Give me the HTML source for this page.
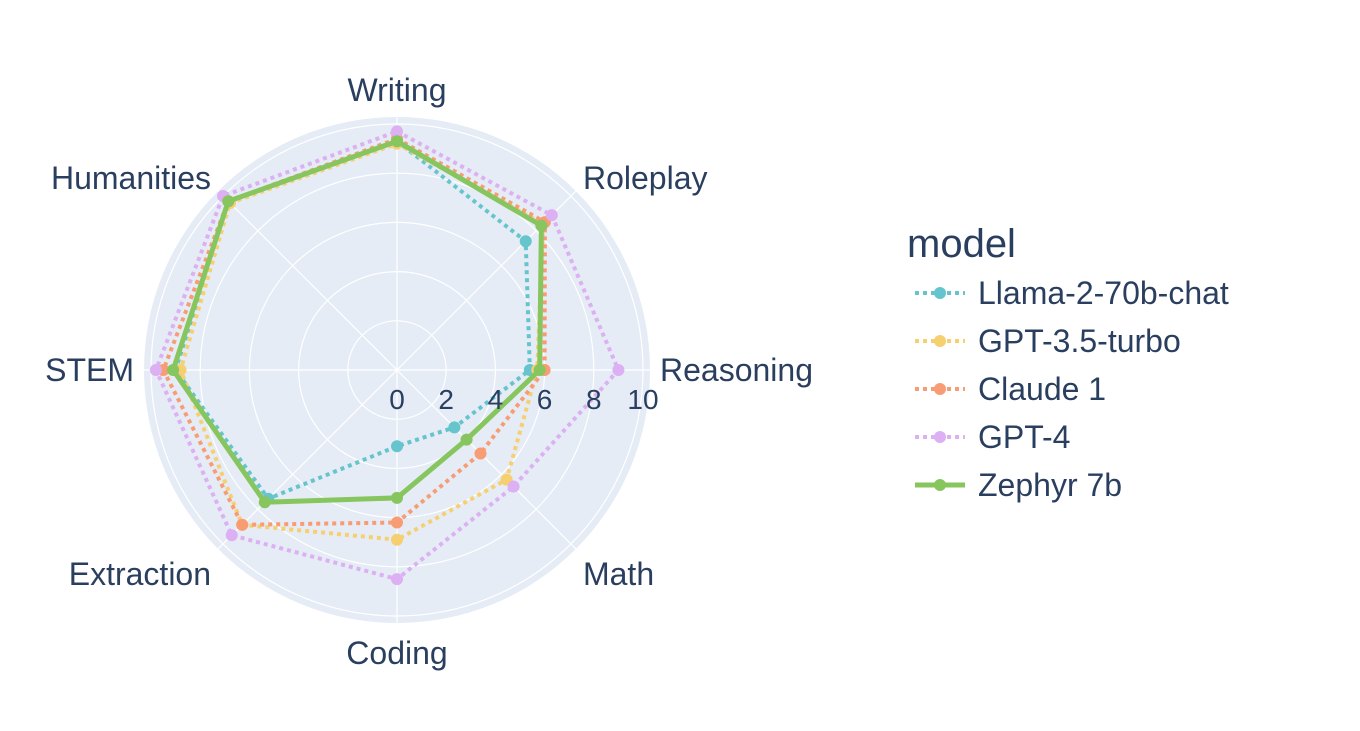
<!DOCTYPE html>
<html><head><meta charset="utf-8"><style>
body{margin:0;background:#fff;}
svg{font-family:"Liberation Sans",sans-serif;}
</style></head><body>
<svg id="chart" width="1360" height="726">
<g id="grid"></g>
<g id="series"></g>
<g id="labels"></g>
<g id="legend"></g>
</svg>
<script>
const categories=["Writing","Roleplay","Reasoning","Math","Coding","Extraction","STEM","Humanities"];
const radialTicks=[0,2,4,6,8,10];
const seriesNames=["Llama-2-70b-chat","GPT-3.5-turbo","Claude 1","GPT-4","Zephyr 7b"];
const llama=[9.3,7.4,5.4,3.3,3.1,7.4,9.0,9.7];
const gpt35=[9.2,8.4,5.7,6.3,6.9,8.9,8.8,9.6];
const claude=[9.4,8.5,6.0,4.8,6.2,8.9,9.5,9.7];
const gpt4=[9.7,8.9,9.0,6.7,8.5,9.5,9.8,10.0];
const zephyr=[9.3,8.3,5.8,4.0,5.2,7.6,9.1,9.7];
const allSeries=[llama,gpt35,claude,gpt4,zephyr];
const colors=["rgb(102,197,204)","rgb(246,207,113)","rgb(248,156,116)","rgb(220,176,242)","rgb(135,197,95)"];
const NS="http://www.w3.org/2000/svg";
const cx=397,cy=370,scale=24.6,outerR=253;
function rr(v){return v*scale;}
function ang(i){return i/categories.length*2*Math.PI;}
function pt(i,v){const a=ang(i);return [cx+rr(v)*Math.sin(a),cy-rr(v)*Math.cos(a)];}
function mk(tag,attrs,parent){const e=document.createElementNS(NS,tag);for(const k in attrs)e.setAttribute(k,attrs[k]);parent.appendChild(e);return e;}
const grid=document.getElementById('grid');
const bg=mk('circle',{cx:cx,cy:cy,r:outerR,fill:'#e5ecf6'},grid);


radialTicks.slice(1).forEach(t=>{const c=mk('circle',{cx:cx,cy:cy,r:rr(t),fill:'none',stroke:'#fff','stroke-width':1.2},grid);

});
categories.forEach((c,i)=>{const p=pt(i,outerR/scale);const l=mk('line',{x1:cx,y1:cy,x2:p[0],y2:p[1],stroke:'#fff','stroke-width':1.2},grid);

});
const labels=document.getElementById('labels');
radialTicks.forEach(t=>{const e=mk('text',{x:cx+rr(t),y:cy+39,'font-size':28,fill:'#2a3f5f','text-anchor':'middle'},labels);e.textContent=t;

});
categories.forEach((c,i)=>{const a=ang(i);const R=263;const x=cx+R*Math.sin(a),y=cy-R*Math.cos(a);
const s=Math.sin(a),co=Math.cos(a);
let anchor=Math.abs(s)<0.1?'middle':(s>0?'start':'end');
let dy;
if(co>0.9)dy=-6;else if(co>0.5)dy=5;else if(co<-0.9)dy=31;else if(co<-0.5)dy=29;else dy=11;
const e=mk('text',{x:x,y:y+dy,'font-size':32,fill:'#2a3f5f','text-anchor':anchor},labels);e.textContent=c;

});
const sg=document.getElementById('series');
allSeries.forEach((vals,s)=>{const pts=vals.map((v,i)=>pt(i,v));pts.push(pts[0]);
const solid=s===4;
const pl=mk('polyline',{points:pts.map(p=>p.join(',')).join(' '),fill:'none',stroke:colors[s],'stroke-width':solid?5:4,'stroke-dasharray':solid?'none':'4,4','stroke-linejoin':'round'},sg);


vals.forEach((v,i)=>{const p=pt(i,v);const m=mk('circle',{cx:p[0],cy:p[1],r:6,fill:colors[s]},sg);

});});
const lg=document.getElementById('legend');
const t=mk('text',{x:907,y:257,'font-size':40,fill:'#2a3f5f'},lg);t.textContent='model';


seriesNames.forEach((n,s)=>{const y=293+s*48;const solid=s===4;
const g=mk('g',{},lg);


mk('line',{x1:915,y1:y,x2:965,y2:y,stroke:colors[s],'stroke-width':solid?5:4,'stroke-dasharray':solid?'none':'4,4'},g);
mk('circle',{cx:940,cy:y,r:6,fill:colors[s]},g);
const tx=mk('text',{x:978,y:y+11,'font-size':32,fill:'#2a3f5f'},g);tx.textContent=n;});
</script>
</body></html>
